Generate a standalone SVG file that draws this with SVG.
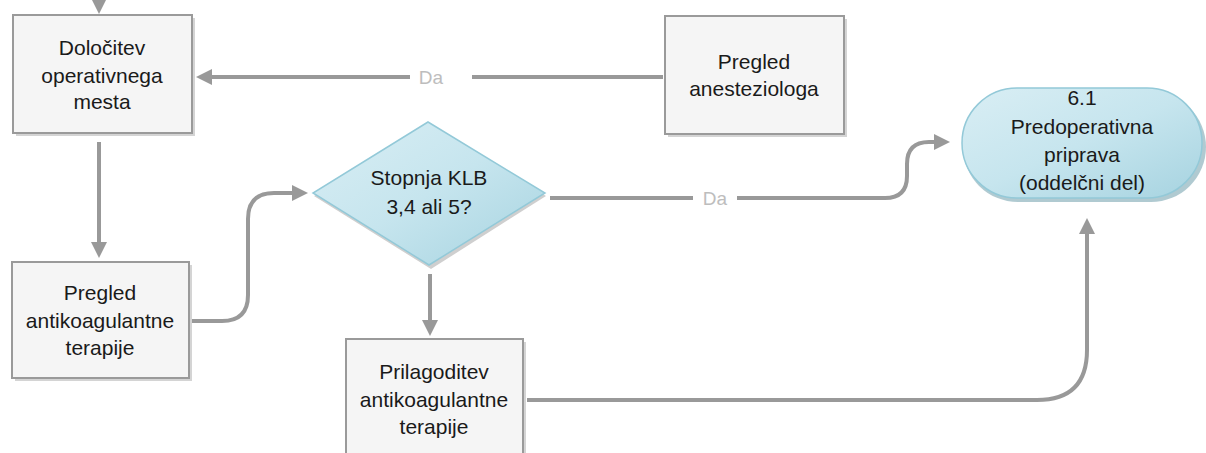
<svg xmlns="http://www.w3.org/2000/svg" width="1206" height="453" viewBox="0 0 1206 453">
<defs>
<style>
.box{fill:#f5f5f5;stroke:#9a9a9a;stroke-width:2}
.shadow{fill:#d4d4d4}
.t{font-family:"Liberation Sans",Arial,sans-serif;font-size:21px;fill:#1a1a1a;text-anchor:middle}
.lbl{font-family:"Liberation Sans",Arial,sans-serif;font-size:19px;fill:#bdbdbd;text-anchor:middle}
.c{fill:none;stroke:#999;stroke-width:4}
</style>
<linearGradient id="blue" x1="0" y1="0" x2="1" y2="1">
<stop offset="0" stop-color="#d9eef4"/>
<stop offset="0.5" stop-color="#c6e5ee"/>
<stop offset="1" stop-color="#a6d3e0"/>
</linearGradient>
<marker id="ah" viewBox="0 0 10 10" refX="5" refY="5" markerWidth="4" markerHeight="4" orient="auto" markerUnits="strokeWidth">
<path d="M0,0 L10,5 L0,10 Z" fill="#999"/>
</marker>
</defs>
<g id="connectors">
<path class="c" d="M99,0 V6" marker-end="url(#ah)"/>
<path class="c" d="M99,142 V250" marker-end="url(#ah)"/>
<path class="c" d="M663,77 H472 M410,77 H204" marker-end="url(#ah)"/>
<text class="lbl" x="431" y="84">Da</text>
<path class="c" d="M191,321 H222 Q248,321 248,295 V219 Q248,193 274,193 H300" marker-end="url(#ah)"/>
<path class="c" d="M430,274 V328" marker-end="url(#ah)"/>
<path class="c" d="M550,198 H693 M737,198 H885 Q907,198 907,176 V164 Q907,142 929,142 H942" marker-end="url(#ah)"/>
<text class="lbl" x="715" y="205">Da</text>
<path class="c" d="M527,400 H1037 Q1087,400 1087,350 V226" marker-end="url(#ah)"/>
</g>
<g id="n1">
<rect class="shadow" x="16" y="18" width="179" height="118"/>
<rect class="box" x="13" y="15" width="179" height="118"/>
<text class="t" x="102" y="55">Določitev</text>
<text class="t" x="102" y="83">operativnega</text>
<text class="t" x="102" y="109">mesta</text>
</g>
<g id="n2">
<rect class="shadow" x="668" y="19" width="179" height="118"/>
<rect class="box" x="665" y="16" width="179" height="118"/>
<text class="t" x="754" y="69">Pregled</text>
<text class="t" x="754" y="96">anesteziologa</text>
</g>
<g id="n3">
<rect x="963" y="92" width="243" height="110" rx="55" fill="#8fb3bd" opacity="0.7"/>
<rect x="962" y="88" width="240" height="110" rx="55" fill="url(#blue)" stroke="#93c9d8" stroke-width="1.5"/>
<text class="t" x="1082" y="105">6.1</text>
<text class="t" x="1082" y="134">Predoperativna</text>
<text class="t" x="1082" y="162">priprava</text>
<text class="t" x="1082" y="190">(oddelčni del)</text>
</g>
<g id="n4">
<path d="M429,125 L546,196 L431,269 L314,196 Z" fill="#cfcfcf"/>
<path d="M428,122 L545,193 L429,265 L313,193 Z" fill="url(#blue)" stroke="#93c9d8" stroke-width="1.5"/>
<text class="t" x="429" y="185">Stopnja KLB</text>
<text class="t" x="429" y="214">3,4 ali 5?</text>
</g>
<g id="n5">
<rect class="shadow" x="15" y="265" width="177" height="116"/>
<rect class="box" x="12" y="262" width="177" height="116"/>
<text class="t" x="100" y="300">Pregled</text>
<text class="t" x="100" y="328">antikoagulantne</text>
<text class="t" x="100" y="355">terapije</text>
</g>
<g id="n6">
<rect class="shadow" x="349" y="342" width="177" height="120"/>
<rect class="box" x="346" y="339" width="177" height="120"/>
<text class="t" x="434" y="379">Prilagoditev</text>
<text class="t" x="434" y="407">antikoagulantne</text>
<text class="t" x="434" y="434">terapije</text>
</g>
</svg>
